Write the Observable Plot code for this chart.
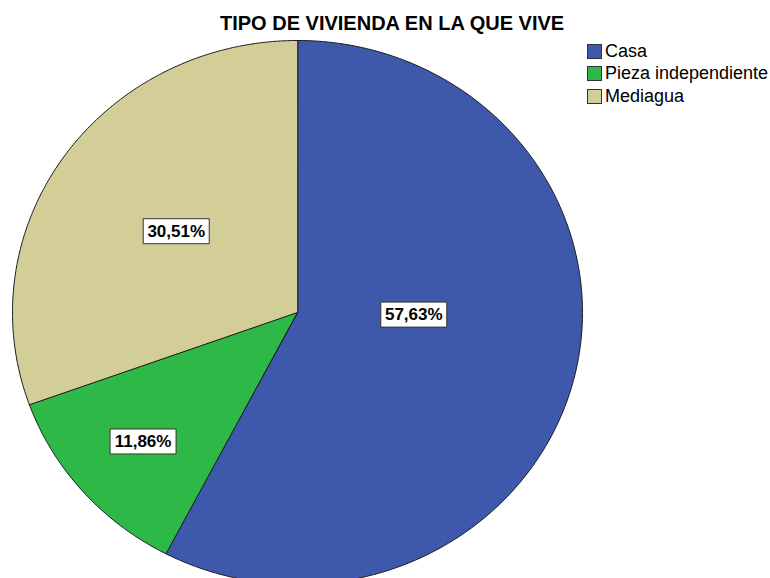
<!DOCTYPE html>
<html>
<head>
<meta charset="utf-8">
<script src="https://cdn.jsdelivr.net/npm/d3@7"></script>
<script src="https://cdn.jsdelivr.net/npm/@observablehq/plot@0.6"></script>
<style>
  html, body { margin: 0; padding: 0; background: #fff; overflow: hidden; }
  #wrap { position: relative; width: 770px; height: 578px; overflow: hidden; font-family: "Liberation Sans", Arial, sans-serif; }
  #title { position: absolute; z-index: 2; top: 12px; left: 220px; font-size: 20px; line-height: 23px; font-weight: bold; color: #000; white-space: nowrap; }
  #chart { position: absolute; z-index: 1; top: 30px; left: 0; }
  #legend { position: absolute; z-index: 2; top: 40px; left: 587px; font-size: 18px; color: #000; }
  .row { display: flex; align-items: center; height: 22.5px; }
  .sw { width: 13px; height: 13px; border: 1px solid #333; margin-right: 3px; box-sizing: content-box; }
  #chart svg { background: transparent !important; }
</style>
</head>
<body>
<div id="wrap">
  <div id="title"></div>
  <div id="chart"></div>
  <div id="legend"></div>
</div>
<script>
const title = "TIPO DE VIVIENDA EN LA QUE VIVE";
const categories = ["Casa", "Pieza independiente", "Mediagua"];
const percents = [57.63, 11.86, 30.51];
const labels = ["57,63%", "11,86%", "30,51%"];
const colors = ["#3E58AC", "#2EB848", "#D3CE97"];

// style: label radial fraction and vertical nudge per slice
const labelStyle = [{f: 0.42, dy: -25}, {f: 0.72, dy: 0}, {f: 0.52, dy: 0}];

document.getElementById("title").textContent = title;

// Build slice geometry in normalized coordinates (unit circle, y up)
const total = d3.sum(percents);
let cum = 0;
const slices = percents.map((p, i) => {
  const a0 = cum / total * 2 * Math.PI;
  cum += p;
  const a1 = cum / total * 2 * Math.PI;
  const pts = [{x: 0, y: 0}];
  const n = Math.max(2, Math.ceil((a1 - a0) / (Math.PI / 360)));
  for (let k = 0; k <= n; k++) {
    const a = a0 + (a1 - a0) * k / n;
    pts.push({x: Math.sin(a), y: Math.cos(a)});
  }
  const am = (a0 + a1) / 2;
  const s = labelStyle[i];
  return {
    category: categories[i], color: colors[i], pts,
    label: {x: s.f * Math.sin(am), y: s.f * Math.cos(am), text: labels[i], dy: s.dy}
  };
});

const boxSymbol = {
  draw(context) { context.rect(-33, -12.5, 66, 25); }
};

const marks = [];
for (const s of slices) {
  marks.push(Plot.line(s.pts, {x: "x", y: "y", curve: "linear-closed", fill: s.color, stroke: "#1a1a1a", strokeWidth: 1}));
}
for (const s of slices) {
  marks.push(Plot.dot([s.label], {x: "x", y: "y", dy: s.label.dy, symbol: boxSymbol, fill: "white", stroke: "#333", strokeWidth: 1}));
  marks.push(Plot.text([s.label], {x: "x", y: "y", dy: s.label.dy, text: "text", fontSize: 17, fontWeight: "bold", fill: "#000", fontFamily: "Liberation Sans, Arial, sans-serif"}));
}

const chart = Plot.plot({
  width: 770,
  height: 548,
  x: {domain: [-1, 1], range: [12, 582], axis: null},
  y: {domain: [-1, 1], range: [554, 10], axis: null},
  style: {background: "transparent", overflow: "hidden"},
  marks
});
document.getElementById("chart").appendChild(chart);

const legend = document.getElementById("legend");
categories.forEach((c, i) => {
  const row = document.createElement("div");
  row.className = "row";
  const sw = document.createElement("div");
  sw.className = "sw";
  sw.style.background = colors[i];
  const t = document.createElement("span");
  t.textContent = c;
  row.appendChild(sw);
  row.appendChild(t);
  legend.appendChild(row);
});
</script>
</body>
</html>
